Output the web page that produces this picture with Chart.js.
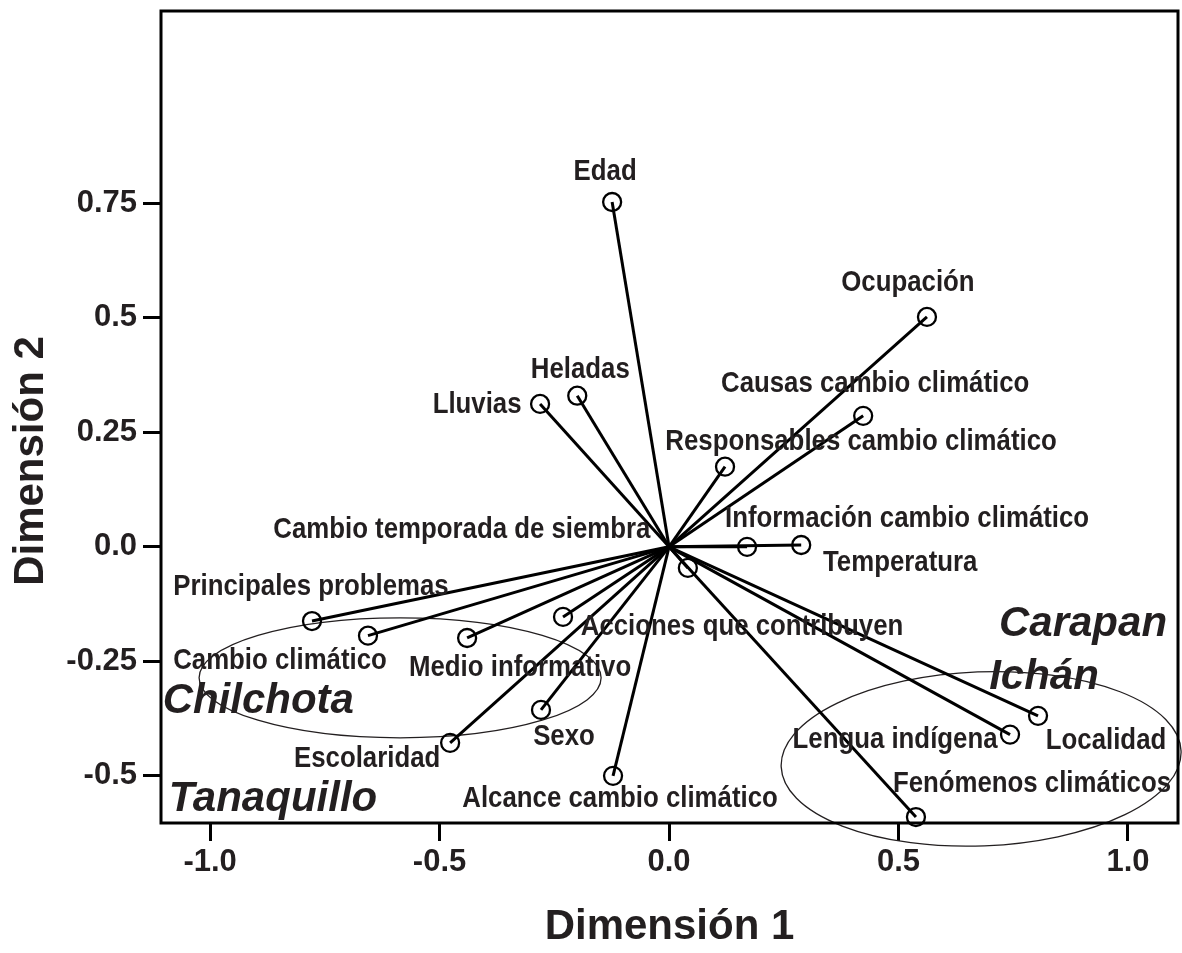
<!DOCTYPE html>
<html lang="es">
<head>
<meta charset="utf-8">
<title>Dimensión 1 / Dimensión 2</title>
<script src="https://cdn.jsdelivr.net/npm/chart.js@4.4.1/dist/chart.umd.min.js"></script>
<style>
    html, body { margin: 0; padding: 0; background: #fff; }
    #wrap { width: 1182px; height: 953px; position: relative; }
</style>
</head>
<body>
<div id="wrap"><canvas id="chart"></canvas></div>
<script>
// values (Dimensión 1, Dimensión 2)
var variables = [
    'Edad', 'Ocupación', 'Causas cambio climático', 'Responsables cambio climático',
    'Heladas', 'Lluvias', 'Información cambio climático', 'Temperatura',
    'Cambio temporada de siembra', 'Principales problemas', 'Cambio climático',
    'Medio informativo', 'Acciones que contribuyen', 'Sexo', 'Escolaridad',
    'Alcance cambio climático', 'Lengua indígena', 'Localidad', 'Fenómenos climáticos'
];
var dim1 = [-0.124, 0.562, 0.423, 0.122, -0.200, -0.281, 0.170, 0.288, 0.041, -0.778, -0.656,
    -0.440, -0.231, -0.279, -0.477, -0.122, 0.743, 0.804, 0.538];
var dim2 = [0.753, 0.502, 0.286, 0.175, 0.330, 0.312, 0.000, 0.004, -0.046, -0.162, -0.194,
    -0.199, -0.153, -0.356, -0.428, -0.500, -0.410, -0.369, -0.590];

var xTicks = [-1.0, -0.5, 0.0, 0.5, 1.0];
var xTickLabels = ['-1.0', '-0.5', '0.0', '0.5', '1.0'];
var yTicks = [-0.5, -0.25, 0.0, 0.25, 0.5, 0.75];
var yTickLabels = ['-0.5', '-0.25', '0.0', '0.25', '0.5', '0.75'];

var groupNames = ['Chilchota', 'Tanaquillo', 'Carapan', 'Ichán'];

// label placement relative to its point (px), same order as variables
var labelOffsets = [
    [-7, -30], [-19, -34], [12, -32], [136, -25], [3, -26], [-63, 1], [160, -28], [99, 18],
    [-226, -38], [-1, -34], [-88, 25], [53, 30], [179, 10], [23, 27], [-83, 16], [7, 23],
    [-115, 5], [68, 25], [116, -33]
];
// group names and ellipses, anchored in axis units
var groupAnchors = [[-0.895, -0.338], [-0.863, -0.552], [0.902, -0.170], [0.817, -0.286]];
var ellipses = [
    { cx: -0.586, cy: -0.286, rx: 0.438, ry: 0.131, rot: 0 },
    { cx: 0.680, cy: -0.463, rx: 0.436, ry: 0.190, rot: -0.04 }
];

var INK = '#231f20';
var LINE = '#000';
var WIDE = '"Liberation Sans", Arial, Helvetica, sans-serif';
var SQUEEZE = 0.86; // no narrow face installed, so the bold face is squeezed

function tickText(list, labels, v) {
    for (var i = 0; i < list.length; i++) {
        if (Math.abs(list[i] - v) < 1e-9) return labels[i];
    }
    return '';
}

function narrowText(ctx, text, x, y) {
    ctx.save();
    ctx.translate(x, y);
    ctx.scale(SQUEEZE, 1);
    ctx.fillText(text, 0, 0);
    ctx.restore();
}

var frame = {
    id: 'frame',
    beforeDatasetsDraw: function (chart) {
        var ctx = chart.ctx, xs = chart.scales.x, ys = chart.scales.y;
        ctx.save();
        ctx.strokeStyle = INK;
        ctx.lineWidth = 1.3;
        ellipses.forEach(function (e) {
            var cx = xs.getPixelForValue(e.cx), cy = ys.getPixelForValue(e.cy);
            var rx = Math.abs(xs.getPixelForValue(e.cx + e.rx) - cx);
            var ry = Math.abs(ys.getPixelForValue(e.cy + e.ry) - cy);
            ctx.beginPath();
            ctx.ellipse(cx, cy, rx, ry, e.rot, 0, Math.PI * 2);
            ctx.stroke();
        });
        ctx.restore();
    },
    afterDatasetsDraw: function (chart) {
        var ctx = chart.ctx, a = chart.chartArea, xs = chart.scales.x, ys = chart.scales.y;
        ctx.save();
        ctx.strokeStyle = LINE;
        ctx.lineWidth = 3;
        ctx.strokeRect(a.left, a.top, a.right - a.left, a.bottom - a.top);

        ctx.fillStyle = INK;
        ctx.textAlign = 'center';
        ctx.textBaseline = 'middle';
        ctx.font = 'bold 30px ' + WIDE;
        variables.forEach(function (name, i) {
            var px = xs.getPixelForValue(dim1[i]) + labelOffsets[i][0];
            var py = ys.getPixelForValue(dim2[i]) + labelOffsets[i][1];
            narrowText(ctx, name, px, py);
        });

        ctx.font = 'italic bold 42px ' + WIDE;
        groupNames.forEach(function (name, i) {
            ctx.fillText(name, xs.getPixelForValue(groupAnchors[i][0]), ys.getPixelForValue(groupAnchors[i][1]));
        });

        // y axis title sits a little below the middle of the frame in the original
        ctx.font = 'bold 42px ' + WIDE;
        ctx.translate(31, 461);
        ctx.rotate(-Math.PI / 2);
        ctx.fillText('Dimensión 2', 0, 0);
        ctx.restore();
    }
};

var datasets = variables.map(function (name, i) {
    return {
        label: name,
        data: [{ x: 0, y: 0 }, { x: dim1[i], y: dim2[i] }],
        showLine: true,
        borderColor: LINE,
        borderWidth: 3,
        pointRadius: [0, 9],
        pointBorderWidth: 2.3,
        pointBorderColor: LINE,
        pointBackgroundColor: 'rgba(0,0,0,0)',
        clip: false
    };
});

new Chart(document.getElementById('chart'), {
    type: 'scatter',
    data: { datasets: datasets },
    options: {
        responsive: true,
        maintainAspectRatio: false,
        animation: false,
        events: [],
        layout: { autoPadding: false, padding: { top: 11, right: 4, left: 0, bottom: 0 } },
        plugins: { legend: { display: false }, tooltip: { enabled: false } },
        scales: {
            x: {
                type: 'linear',
                min: -1.107,
                max: 1.109,
                afterBuildTicks: function (s) { s.ticks = xTicks.map(function (v) { return { value: v }; }); },
                afterFit: function (s) {
                    s.height = 130;
                    s.paddingLeft = 0;
                    s.paddingRight = 0;
                },
                ticks: {
                    autoSkip: false,
                    maxRotation: 0,
                    padding: 3,
                    color: INK,
                    font: { family: WIDE, size: 31, weight: 'bold' },
                    callback: function (v) { return tickText(xTicks, xTickLabels, v); }
                },
                grid: { drawOnChartArea: false, drawTicks: true, tickLength: 18, tickWidth: 3, tickColor: LINE },
                border: { display: false },
                title: {
                    display: true,
                    text: 'Dimensión 1',
                    color: INK,
                    font: { family: WIDE, size: 42, weight: 'bold' },
                    padding: { top: 0, bottom: 0 }
                }
            },
            y: {
                type: 'linear',
                min: -0.603,
                max: 1.17,
                afterBuildTicks: function (s) { s.ticks = yTicks.map(function (v) { return { value: v }; }); },
                afterFit: function (s) {
                    s.width = 161;
                    s.paddingTop = 0;
                    s.paddingBottom = 0;
                },
                ticks: {
                    autoSkip: false,
                    padding: 6,
                    color: INK,
                    font: { family: WIDE, size: 31, weight: 'bold' },
                    callback: function (v) { return tickText(yTicks, yTickLabels, v); }
                },
                grid: { drawOnChartArea: false, drawTicks: true, tickLength: 18, tickWidth: 3, tickColor: LINE },
                border: { display: false },
                title: { display: false }
            }
        }
    },
    plugins: [frame]
});
</script>
</body>
</html>
